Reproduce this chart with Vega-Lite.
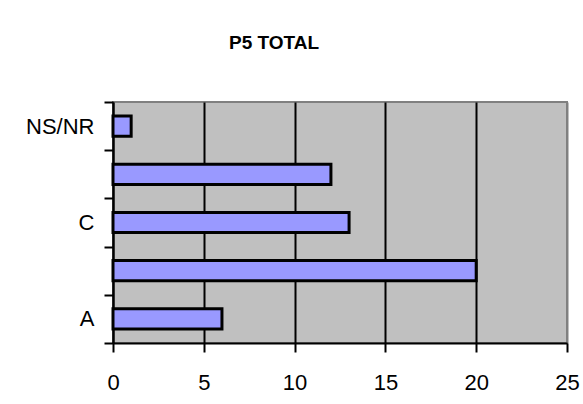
{
  "$schema": "https://vega.github.io/schema/vega-lite/v6.json",
  "width": 454,
  "height": 241,
  "autosize": {"type": "none"},
  "padding": {"left": 113, "top": 102, "right": 16, "bottom": 61},
  "background": "white",
  "title": {
    "text": "P5 TOTAL",
    "fontSize": 19,
    "fontWeight": "bold",
    "font": "Liberation Sans",
    "color": "black",
    "anchor": "middle",
    "frame": "group",
    "dx": -66,
    "offset": 38
  },
  "data": {
    "values": [
      {"cat": "A", "value": 6},
      {"cat": "B", "value": 20},
      {"cat": "C", "value": 13},
      {"cat": "D", "value": 12},
      {"cat": "NS/NR", "value": 1}
    ]
  },
  "mark": {
    "type": "bar",
    "fill": "#9999FF",
    "stroke": "black",
    "strokeWidth": 3,
    "height": {"band": 0.42}
  },
  "encoding": {
    "y": {
      "field": "cat",
      "type": "nominal",
      "sort": ["NS/NR", "D", "C", "B", "A"],
      "scale": {"paddingInner": 0, "paddingOuter": 0},
      "axis": {
        "title": null,
        "grid": false,
        "tickBand": "extent",
        "labelExpr": "datum.label == 'B' || datum.label == 'D' ? '' : datum.label",
        "domainColor": "black",
        "domainWidth": 2,
        "tickColor": "black",
        "tickWidth": 2,
        "tickSize": 9,
        "labelFont": "Liberation Sans",
        "labelFontSize": 22,
        "labelColor": "black",
        "labelPadding": 10
      }
    },
    "x": {
      "field": "value",
      "type": "quantitative",
      "scale": {"domain": [0, 25], "nice": false},
      "axis": {
        "title": null,
        "values": [0, 5, 10, 15, 20, 25],
        "labelFlush": false,
        "grid": true,
        "gridColor": {"condition": {"test": "datum.value == 25", "value": "#808080"}, "value": "black"},
        "gridWidth": 2,
        "domainColor": "black",
        "domainWidth": 2,
        "tickColor": "black",
        "tickWidth": 2,
        "tickSize": 9,
        "labelFont": "Liberation Sans",
        "labelFontSize": 22,
        "labelColor": "black",
        "labelPadding": 20
      }
    }
  },
  "config": {
    "font": "Liberation Sans",
    "view": {"fill": "#C0C0C0", "stroke": "#808080", "strokeWidth": 2}
  }
}
